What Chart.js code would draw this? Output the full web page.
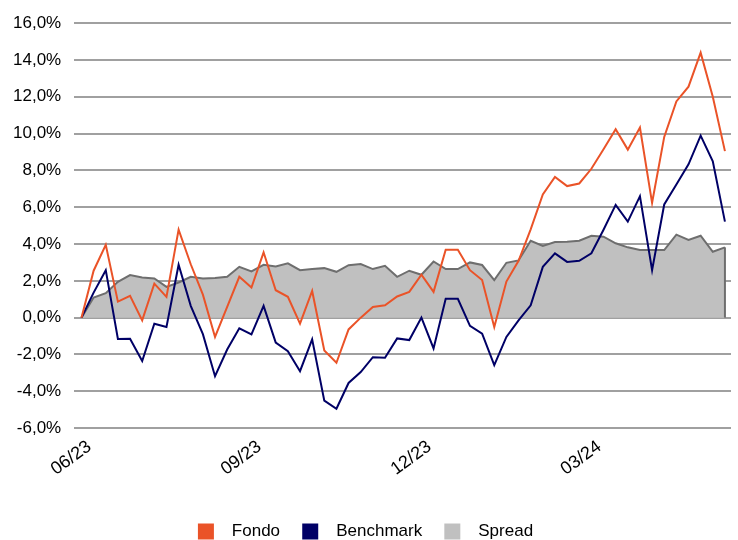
<!DOCTYPE html>
<html>
<head>
<meta charset="utf-8">
<script src="https://cdn.jsdelivr.net/npm/chart.js@4"></script>
<style>
  html, body { margin: 0; padding: 0; background: #fff; }
  #contenedor { width: 738px; height: 540px; }
</style>
</head>
<body>
<div id="contenedor"><canvas id="chartRentabilidad"></canvas></div>
<script>
// Etiquetas del eje X y posicion (indice de semana) de cada una
const etiquetas = ["06/23", "09/23", "12/23", "03/24"];
const posiciones_etiquetas = [0, 14, 28, 42];

// Rentabilidad acumulada (%)
const fondo = [0, 2.55, 3.96, 0.87, 1.18, -0.15, 1.85, 1.13, 4.78, 2.9,
  1.25, -1.05, 0.58, 2.22, 1.64, 3.55, 1.49, 1.13, -0.33, 1.45,
  -1.78, -2.45, -0.64, 0.0, 0.58, 0.67, 1.15, 1.4, 2.33, 1.4,
  3.69, 3.69, 2.58, 2.04, -0.51, 1.96, 3.09, 4.8, 6.69, 7.64,
  7.15, 7.29, 8.09, 9.15, 10.24, 9.13, 10.33, 6.24, 9.82, 11.75,
  12.55, 14.4, 12.0, 9.05];

const benchmark = [0, 1.36, 2.58, -1.16, -1.15, -2.36, -0.33, -0.51, 2.87, 0.64,
  -0.9, -3.18, -1.73, -0.58, -0.91, 0.64, -1.36, -1.82, -2.91, -1.18,
  -4.51, -4.95, -3.55, -2.96, -2.15, -2.18, -1.13, -1.22, 0.0, -1.67,
  1.02, 1.02, -0.45, -0.87, -2.58, -1.05, -0.15, 0.67, 2.76, 3.49,
  3.03, 3.09, 3.5, 4.78, 6.13, 5.22, 6.6, 2.58, 6.15, 7.24,
  8.33, 9.89, 8.49, 5.22];

const spread = [0, 1.09, 1.33, 1.95, 2.31, 2.18, 2.13, 1.67, 1.91, 2.22,
  2.13, 2.15, 2.22, 2.76, 2.51, 2.87, 2.78, 2.95, 2.58, 2.64,
  2.69, 2.49, 2.85, 2.91, 2.64, 2.82, 2.22, 2.55, 2.33, 3.05,
  2.64, 2.64, 3.0, 2.86, 2.04, 2.98, 3.11, 4.18, 3.9, 4.11,
  4.13, 4.18, 4.45, 4.4, 4.04, 3.82, 3.67, 3.67, 3.67, 4.51,
  4.22, 4.45, 3.58, 3.82];

const fuente = "'Liberation Sans', Arial, sans-serif";

function puntos(serie) {
  return serie.map((v, i) => ({ x: i, y: v }));
}

// Cierra el area del spread con una linea vertical en el ultimo punto
const cierre_spread = {
  id: 'cierre_spread',
  afterDatasetDraw(chart, args) {
    if (args.index !== 2) return;
    const ult = spread.length - 1;
    const x = chart.scales.x.getPixelForValue(ult);
    const y1 = chart.scales.y.getPixelForValue(spread[ult]);
    const y0 = chart.scales.y.getPixelForValue(0);
    const ctx = chart.ctx;
    ctx.save();
    ctx.strokeStyle = '#6E6E6E';
    ctx.lineWidth = 2;
    ctx.beginPath();
    ctx.moveTo(x, y1);
    ctx.lineTo(x, y0);
    ctx.stroke();
    ctx.restore();
  }
};

function grafico_rentabilidad() {
  const canvas = document.getElementById('chartRentabilidad');
  new Chart(canvas, {
    type: 'line',
    data: {
      datasets: [
        {
          label: 'Fondo',
          data: puntos(fondo),
          borderColor: '#EA5328',
          backgroundColor: '#EA5328',
          borderWidth: 2,
          pointRadius: 0,
          tension: 0
        },
        {
          label: 'Benchmark',
          data: puntos(benchmark),
          borderColor: '#000066',
          backgroundColor: '#000066',
          borderWidth: 2,
          pointRadius: 0,
          tension: 0
        },
        {
          label: 'Spread',
          data: puntos(spread),
          borderColor: '#6E6E6E',
          backgroundColor: '#C0C0C0',
          borderWidth: 2,
          pointRadius: 0,
          tension: 0,
          fill: 'origin'
        }
      ]
    },
    options: {
      responsive: true,
      maintainAspectRatio: false,
      animation: false,
      layout: { padding: { top: 14, right: 7, left: 0, bottom: -10 } },
      plugins: {
        tooltip: { enabled: false },
        legend: {
          position: 'bottom',
          labels: {
            color: '#000',
            font: { family: fuente, size: 17 },
            boxWidth: 16,
            boxHeight: 16,
            padding: 8,
            generateLabels: (chart) => {
              const items = Chart.defaults.plugins.legend.labels.generateLabels(chart);
              items.forEach((it, k) => {
                it.text = '  ' + it.text + (k < items.length - 1 ? '   ' : '');
                it.fillStyle = chart.data.datasets[it.datasetIndex].backgroundColor;
                it.strokeStyle = it.fillStyle;
                it.lineWidth = 0;
              });
              return items;
            }
          }
        }
      },
      scales: {
        x: {
          type: 'linear',
          min: -0.6,
          max: 53.5,
          grid: { display: false },
          border: { display: false },
          afterBuildTicks: (axis) => {
            axis.ticks = posiciones_etiquetas.map(p => ({ value: p }));
          },
          afterFit: (axis) => {
            axis.height += 35;
          },
          ticks: {
            autoSkip: false,
            minRotation: 36,
            maxRotation: 36,
            padding: 0,
            labelOffset: 8,
            color: '#000',
            font: { family: fuente, size: 18 },
            callback: (valor) => {
              const k = posiciones_etiquetas.indexOf(valor);
              return k >= 0 ? etiquetas[k] : '';
            }
          }
        },
        y: {
          min: -6,
          max: 16,
          border: { display: false },
          grid: { color: '#A0A0A0', lineWidth: 2, drawTicks: false },
          ticks: {
            stepSize: 2,
            padding: 13,
            color: '#000',
            font: { family: fuente, size: 17 },
            callback: (v) => v.toFixed(1).replace('.', ',') + '%'
          }
        }
      }
    },
    plugins: [cierre_spread]
  });
}

grafico_rentabilidad();
</script>
</body>
</html>
